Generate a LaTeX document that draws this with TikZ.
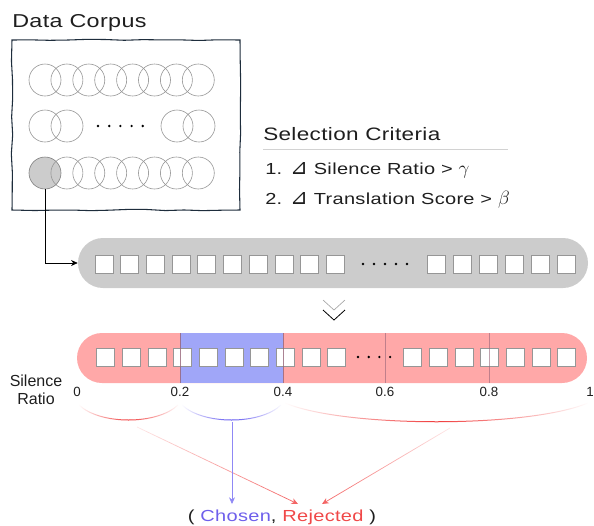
\documentclass[tikz,border=0pt]{standalone}
\usepackage{fontspec}
\setmainfont{Liberation Sans}
\newfontfamily\widefont{Liberation Sans}[FakeStretch=1.25,LetterSpace=2]
\newfontfamily\symfont{DejaVu Sans}
\usetikzlibrary{arrows.meta,decorations.pathmorphing,fadings}
\definecolor{barg}{RGB}{204,204,204}
\definecolor{pinkbar}{RGB}{255,168,168}
\definecolor{bluebar}{RGB}{160,166,248}
\definecolor{blueline}{RGB}{95,85,240}
\definecolor{redline}{RGB}{240,60,60}
\definecolor{chosen}{RGB}{110,95,235}
\definecolor{rejected}{RGB}{240,72,72}
\definecolor{navy}{RGB}{30,45,60}
\definecolor{circg}{RGB}{150,150,150}
\definecolor{sqb}{RGB}{150,150,150}
\definecolor{divider}{RGB}{150,100,120}
\definecolor{txt}{RGB}{30,30,30}
\tikzfading[name=fadeends, left color=transparent!100, right color=transparent!100, middle color=transparent!0]
\tikzfading[name=fadedown, top color=transparent!85, bottom color=transparent!0]
\tikzset{
  sq/.style={draw=sqb, fill=white, line width=0.6pt, minimum size=13.5pt, inner sep=0pt},
  circ/.style={circle, draw=circg, line width=0.45pt, minimum size=24pt, inner sep=0pt},
  dotmark/.style={circle, fill=black, minimum size=2pt, inner sep=0pt},
  tick/.style={font=\fontsize{10}{12}\selectfont, text=txt, inner sep=0pt},
  arr/.style={-{Stealth[length=5pt,width=4.5pt]}, line width=0.55pt},
  brace/.style={line width=0.75pt, path fading=fadeends},
}
\newcommand{\tri}{{\symfont\fontsize{16}{14}\selectfont ⊿}}
\newcommand{\gk}[1]{{\fontsize{15}{14}\selectfont$#1$}}
\begin{document}
\begin{tikzpicture}[x=0.75pt,y=-0.75pt]
\useasboundingbox (0,0) rectangle (594,526);

% ---- Data corpus
\node[anchor=base west, inner sep=0pt, text=txt, font=\widefont\fontsize{14}{16}\selectfont] (title) at (12,27) {Data Corpus};
\pgfmathsetseed{7}
\draw[navy, line width=0.8pt, decorate, decoration={random steps, segment length=14pt, amplitude=0.5pt}]
  (12,40) -- (240,40) -- (240,210) -- (12,210) -- cycle;
\node[circ, fill=barg, draw=gray] (c30) at (45,173) {};
\foreach \i in {0,...,7} {\node[circ] (c1\i) at ({45+21.9*\i},80) {};}
\foreach \i in {1,...,7} {\node[circ] (c3\i) at ({45+21.9*\i},173) {};}
\node[circ] (c20) at (45,126) {};
\node[circ] (c21) at (67,126) {};
\node[circ] (c22) at (177,126) {};
\node[circ] (c23) at (199,126) {};
\foreach \i in {0,...,4} {\node[dotmark] (cd\i) at ({98+11.2*\i},126) {};}

% ---- Selection criteria
\node[anchor=base west, inner sep=0pt, text=txt, font=\widefont\fontsize{13.5}{16}\selectfont] (sel) at (263,140) {Selection Criteria};
\draw[gray!35, line width=0.5pt] (263,149) -- (508,149);
\node[anchor=base west, inner sep=0pt, text=txt, font=\widefont\fontsize{12}{14}\selectfont] (crit1) at (265,174) {1. \tri{} Silence Ratio > \gk{\gamma}};
\node[anchor=base west, inner sep=0pt, text=txt, font=\widefont\fontsize{12}{14}\selectfont] (crit2) at (265,204) {2. \tri{} Translation Score > \gk{\beta}};

% ---- Gray bar
\node[fill=barg, rounded corners=18.75pt, minimum width=382.5pt, minimum height=37.5pt, inner sep=0pt] (bar1) at (333,263) {};
\foreach \i in {0,...,9} {\node[sq] (ga\i) at ({104+25.7*\i},264) {};}
\foreach \i in {0,...,5} {\node[sq] (gb\i) at ({436+26*\i},264) {};}
\foreach \i in {0,...,4} {\node[dotmark] (gd\i) at ({363+11*\i},264) {};}
\draw[arr] (c30.south) |- (bar1.west);

% ---- chevrons
\coordinate (chevA) at (323,300);
\coordinate (chevB) at (323,310);
\draw[gray!70, line width=0.5pt] (chevA) -- ++(11,10) -- ++(11,-10);
\draw[black, line width=0.6pt] (chevB) -- ++(11,10) -- ++(11,-10);

% ---- Coloured bar
\node[fill=pinkbar, rounded corners=18.75pt, minimum width=382.5pt, minimum height=37.5pt, inner sep=0pt] (bar2) at (332,358) {};
\fill[bluebar] (180,333) rectangle (283,383);
\foreach \i in {0,...,9} {\node[sq] (ra\i) at ({105.5+25.7*\i},357.5) {};}
\foreach \i in {0,...,6} {\node[sq] (rb\i) at ({412.5+25.7*\i},357.5) {};}
\foreach \i in {0,...,3} {\node[dotmark] (rd\i) at ({358+10.7*\i},357) {};}
\draw[divider, opacity=0.8, line width=0.6pt] (180,333) -- (180,383);
\draw[divider, opacity=0.8, line width=0.6pt] (283,333) -- (283,383);
\draw[divider, opacity=0.6, line width=0.5pt] (385,333) -- (385,383);
\draw[divider, opacity=0.6, line width=0.5pt] (489,333) -- (489,383);

% ---- labels
\node[align=center, text=txt, font=\fontsize{12}{13.5}\selectfont, inner sep=0pt] (sr) at (36,390) {Silence\\Ratio};
\node[tick] (t0) at (77,392) {0};
\node[tick] (t2) at (180,392) {0.2};
\node[tick] (t4) at (283,392) {0.4};
\node[tick] (t6) at (385,392) {0.6};
\node[tick] (t8) at (489,392) {0.8};
\node[tick] (t10) at (590,392) {1};

% ---- braces
\coordinate (a0) at (79,405);
\coordinate (a1) at (178,405);
\coordinate (b0) at (182,405);
\coordinate (b1) at (281,405);
\coordinate (r0) at (285,403);
\coordinate (r1) at (588,403);
\draw[brace, redline] (a0) .. controls (100,425) and (157,425) .. (a1);
\draw[brace, blueline] (b0) .. controls (203,425) and (260,425) .. (b1);
\draw[brace, redline] (r0) .. controls (345,428) and (528,428) .. (r1);

% ---- result
\node[inner sep=0pt, text=txt, font=\widefont\fontsize{12}{14}\selectfont] (res) at (282,517) {( {\color{chosen}Chosen}, {\color{rejected}Rejected} )};
\coordinate (sL) at (137,427);
\coordinate (sB) at (232,422);
\coordinate (sR) at (450,428);
\coordinate (eL) at (298,504);
\coordinate (eB) at (232,504);
\coordinate (eR) at (322,504);
\draw[arr, redline!80, path fading=fadedown] (sL) -- (eL);
\draw[arr, blueline!70] (sB) -- (eB);
\draw[arr, redline!80, path fading=fadedown] (sR) -- (eR);
\end{tikzpicture}
\end{document}
